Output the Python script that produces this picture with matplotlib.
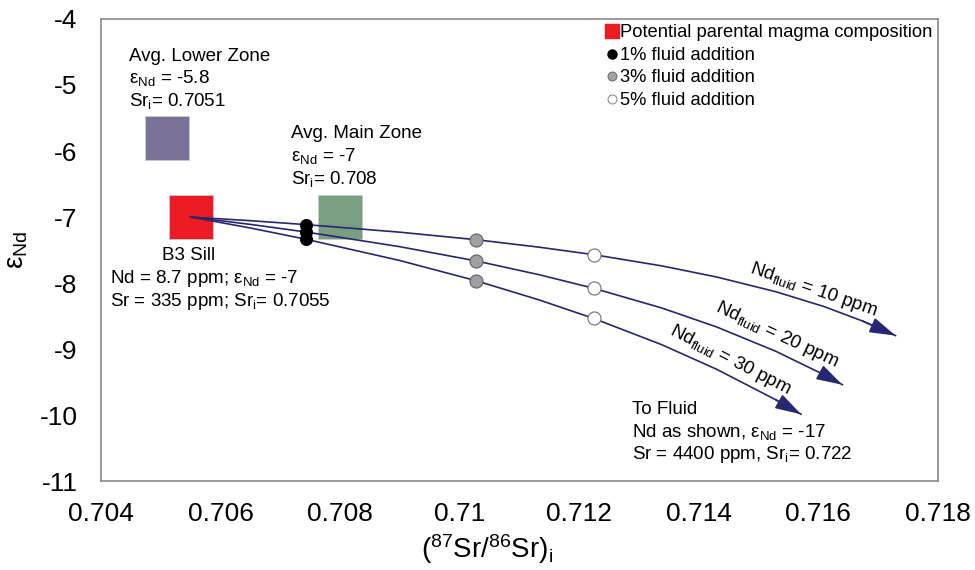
import matplotlib
matplotlib.use("Agg")
import matplotlib.pyplot as plt
import matplotlib.ticker as mticker
from matplotlib.lines import Line2D

plt.rcParams.update({
    "font.family": ["Liberation Sans", "DejaVu Sans"],
    "mathtext.fontset": "custom",
    "mathtext.rm": "Liberation Sans",
    "mathtext.it": "Liberation Sans:italic",
    "mathtext.bf": "Liberation Sans:bold",
    "mathtext.sf": "Liberation Sans",
})

# end-members and zone averages (Sr_i, eps_Nd)
sill_x, sill_y = [0.7055], [-7.0]
lower_x, lower_y = [0.7051], [-5.8]
main_x, main_y = [0.708], [-7.0]

# mixing curves
nd10_x = [0.7055, 0.70652, 0.70743, 0.70899, 0.71027, 0.71133, 0.71224,
          0.71338, 0.71430, 0.71529, 0.71609, 0.71674, 0.71729]
nd10_y = [-7.0, -7.057, -7.115, -7.229, -7.343, -7.457, -7.570,
          -7.740, -7.909, -8.132, -8.355, -8.576, -8.796]
nd20_x = [0.7055, 0.70652, 0.70743, 0.70899, 0.71027, 0.71133, 0.71224,
          0.71338, 0.71430, 0.71529, 0.71609, 0.71640]
nd20_y = [-7.0, -7.114, -7.227, -7.448, -7.664, -7.874, -8.079,
          -8.378, -8.666, -9.035, -9.387, -9.540]
nd30_x = [0.7055, 0.70652, 0.70743, 0.70899, 0.71027, 0.71133, 0.71224,
          0.71338, 0.71430, 0.71529, 0.71571]
nd30_y = [-7.0, -7.170, -7.337, -7.657, -7.964, -8.256, -8.536,
          -8.934, -9.307, -9.770, -9.988]

# fluid addition markers (10, 20, 30 ppm curves)
f1_x, f1_y = [0.70743] * 3, [-7.115, -7.227, -7.337]
f3_x, f3_y = [0.71027] * 3, [-7.343, -7.664, -7.964]
f5_x, f5_y = [0.71224] * 3, [-7.570, -8.079, -8.536]

x_ticks = [0.704, 0.706, 0.708, 0.710, 0.712, 0.714, 0.716, 0.718]
y_ticks = [-4, -5, -6, -7, -8, -9, -10, -11]

RED = "#ed1c24"
PURPLE = "#7b7299"
GREEN = "#7a9e82"
NAVY = "#262672"
FRAME = "#808080"
FS = 13.5

fig = plt.figure(figsize=(9.75, 5.7), dpi=100)
ax = fig.add_axes([0.1036, 0.156, 0.8584, 0.8107])

sq = dict(marker="s", ms=31.7, mec="#c8c8c8", mew=0.6, ls="none", zorder=2)
ax.plot(lower_x, lower_y, mfc=PURPLE, **sq)
ax.plot(main_x, main_y, mfc=GREEN, **sq)
ax.plot(sill_x, sill_y, mfc=RED, **sq)

for cx, cy in [(nd10_x, nd10_y), (nd20_x, nd20_y), (nd30_x, nd30_y)]:
    ax.plot(cx, cy, color=NAVY, lw=1.2, zorder=3)
    ax.annotate("", xy=(cx[-1], cy[-1]), xytext=(cx[-2], cy[-2]),
                arrowprops=dict(arrowstyle="-|>,head_length=0.8,head_width=0.24",
                                color=NAVY, lw=1.2, shrinkA=0, shrinkB=0,
                                mutation_scale=20), zorder=3)

ax.plot(f1_x, f1_y, "o", ms=8.6, mfc="black", mec="black", mew=0.8, zorder=4)
ax.plot(f3_x, f3_y, "o", ms=9.4, mfc="#a0a0a0", mec="#606060", mew=0.8, zorder=4)
ax.plot(f5_x, f5_y, "o", ms=9.4, mfc="white", mec="#707070", mew=0.8, zorder=4)

# curve labels
ax.text(0.71591, -8.106, r"Nd$_\mathregular{fluid}$ = 10 ppm", fontsize=FS,
        rotation=-19, ha="center", va="center", rotation_mode="anchor")
ax.text(0.71531, -8.788, r"Nd$_\mathregular{fluid}$ = 20 ppm", fontsize=FS,
        rotation=-25, ha="center", va="center", rotation_mode="anchor")
ax.text(0.71452, -9.167, r"Nd$_\mathregular{fluid}$ = 30 ppm", fontsize=FS,
        rotation=-27, ha="center", va="center", rotation_mode="anchor")

# annotations
ax.text(0.70447, -4.632, "Avg. Lower Zone", fontsize=FS, va="baseline")
ax.text(0.70447, -4.970, r"ε$_\mathregular{Nd}$ = -5.8", fontsize=FS, va="baseline")
ax.text(0.70447, -5.318, r"Sr$_\mathregular{i}$= 0.7051", fontsize=FS, va="baseline")

ax.text(0.70718, -5.803, "Avg. Main Zone", fontsize=FS, va="baseline")
ax.text(0.70718, -6.152, r"ε$_\mathregular{Nd}$ = -7", fontsize=FS, va="baseline")
ax.text(0.70718, -6.500, r"Sr$_\mathregular{i}$= 0.708", fontsize=FS, va="baseline")

ax.text(0.70547, -7.652, "B3 Sill", fontsize=FS, va="baseline", ha="center")
ax.text(0.70415, -8.000, r"Nd = 8.7 ppm; ε$_\mathregular{Nd}$ = -7", fontsize=FS, va="baseline")
ax.text(0.70415, -8.348, r"Sr = 335 ppm; Sr$_\mathregular{i}$= 0.7055", fontsize=FS, va="baseline")

ax.text(0.71288, -9.985, "To Fluid", fontsize=FS, va="baseline")
ax.text(0.71288, -10.333, r"Nd as shown, ε$_\mathregular{Nd}$ = -17", fontsize=FS, va="baseline")
ax.text(0.71288, -10.667, r"Sr = 4400 ppm, Sr$_\mathregular{i}$= 0.722", fontsize=FS, va="baseline")

handles = [
    Line2D([], [], marker="s", ls="none", ms=9.5, mfc=RED, mec=RED),
    Line2D([], [], marker="o", ls="none", ms=6.5, mfc="black", mec="black"),
    Line2D([], [], marker="o", ls="none", ms=6.5, mfc="#a0a0a0", mec="#606060", mew=0.6),
    Line2D([], [], marker="o", ls="none", ms=6.5, mfc="white", mec="#707070", mew=0.6),
]
labels = ["Potential parental magma composition", "1% fluid addition",
          "3% fluid addition", "5% fluid addition"]
ax.legend(handles, labels, loc="upper right", frameon=False, fontsize=13.2,
          borderaxespad=0.1, borderpad=0.2, handlelength=0.6, handletextpad=0.15,
          labelspacing=0.3)

ax.set_xlim(0.704, 0.718)
ax.set_ylim(-11, -4)
ax.set_xticks(x_ticks)
ax.set_yticks(y_ticks)
ax.xaxis.set_major_formatter(mticker.FuncFormatter(lambda v, _: f"{round(v, 4):g}"))
ax.yaxis.set_major_formatter(mticker.FuncFormatter(lambda v, _: f"{v:g}"))
ax.tick_params(axis="x", length=0, pad=15, labelsize=19)
ax.tick_params(axis="y", length=0, pad=17, labelsize=19)
for s in ax.spines.values():
    s.set_color(FRAME)
    s.set_linewidth(1.1)

ax.set_xlabel(r"($^\mathregular{87}$Sr/$^\mathregular{86}$Sr)$_\mathregular{i}$", fontsize=20)
ax.xaxis.set_label_coords(0.461, -0.11)
ax.set_ylabel(r"ε$_\mathregular{Nd}$", fontsize=20)
ax.yaxis.set_label_coords(-0.085, 0.5)

fig.savefig("out.png", dpi=100, facecolor="white")
